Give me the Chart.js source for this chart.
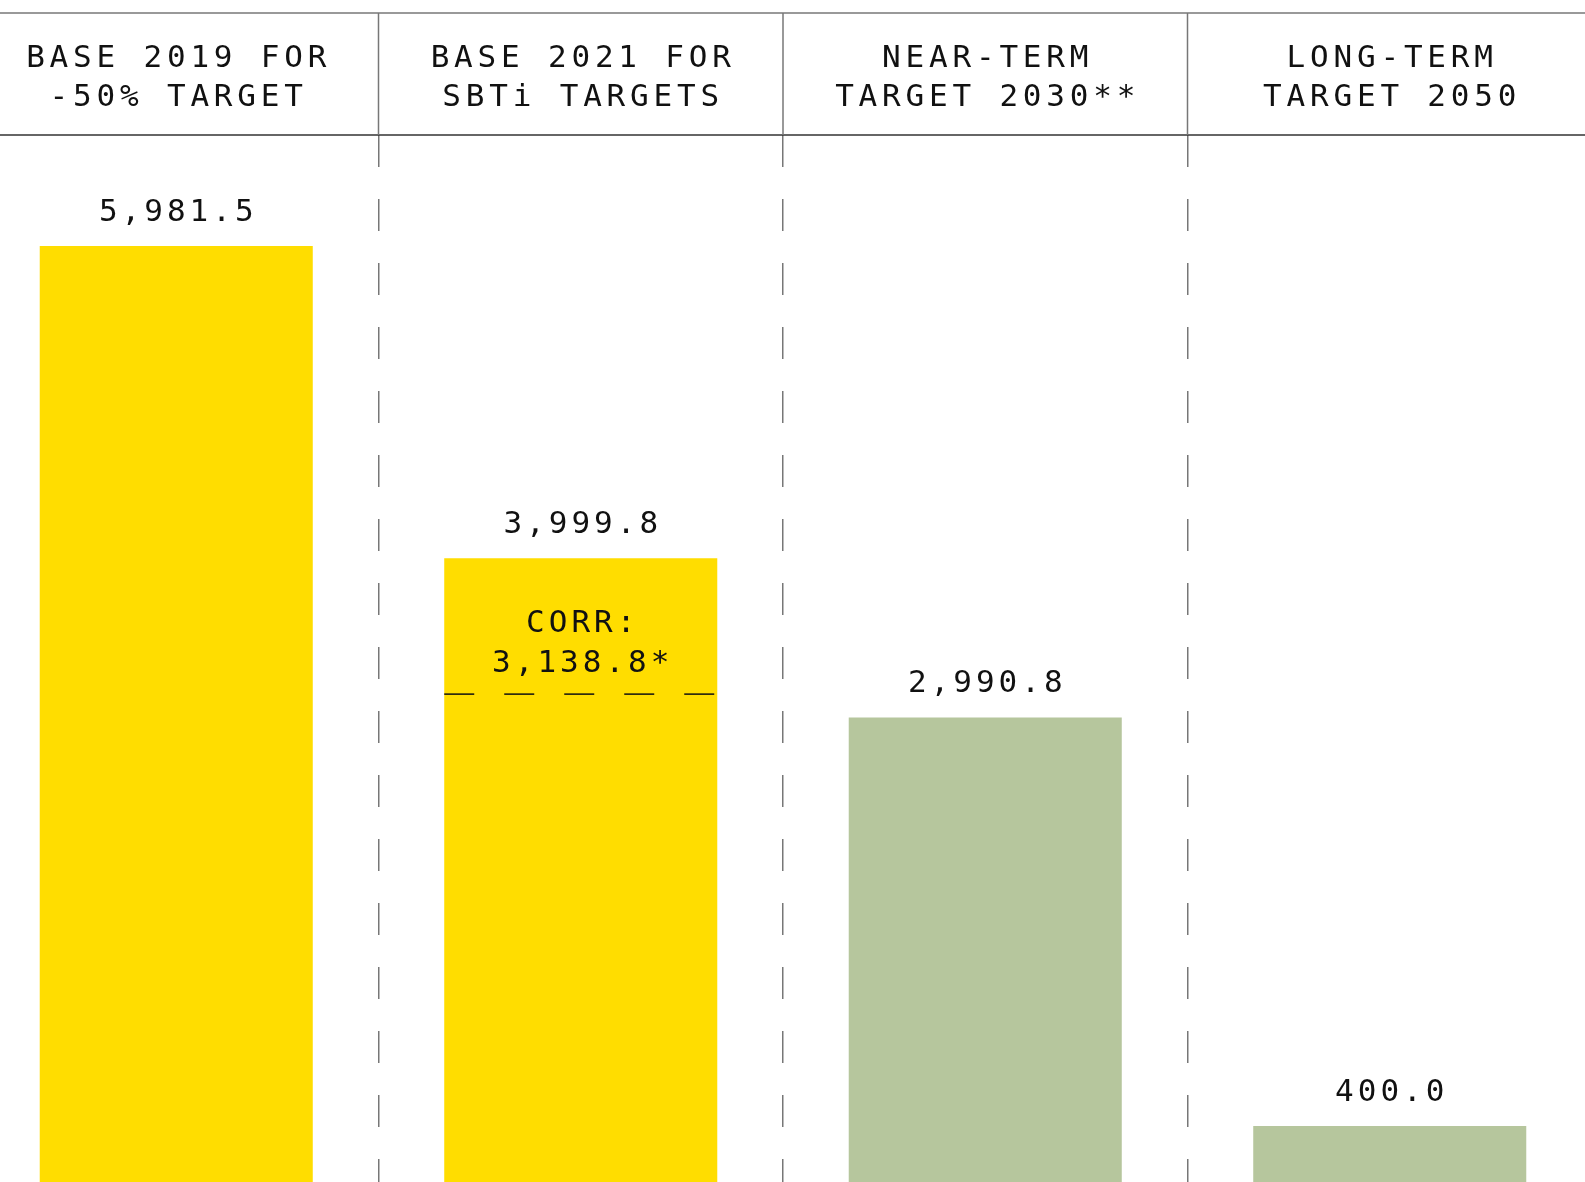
<!DOCTYPE html>
<html><head><meta charset="utf-8">
<script src="https://cdn.jsdelivr.net/npm/chart.js@4"></script>
<style>
html,body{margin:0;padding:0;background:#fff;overflow:hidden;width:1585px;height:1182px;}
#wrap{position:absolute;left:-26px;top:0;width:1618px;height:1189px;}
</style></head><body>
<div id="wrap"><canvas id="c"></canvas></div>
<script>
const categories = [["BASE 2019 FOR","-50% TARGET"],["BASE 2021 FOR","SBTi TARGETS"],["NEAR-TERM","TARGET 2030**"],["LONG-TERM","TARGET 2050"]];
const emissions = [5981.5, 3999.8, 2990.8, 400.0];
const valueLabels = ["5,981.5","3,999.8","2,990.8","400.0"];
const correctedValues = [null, 3138.8, null, null];
const correctedLabels = [null, ["CORR:","3,138.8*"], null, null];
const barColors = ["#FFDD00","#FFDD00","#B6C69D","#B6C69D"];
const yMax = 6685;

const FONT = '31px "DejaVu Sans Mono", "Liberation Mono", monospace';
function spaced(ctx, text, x, y, sp) {
  ctx.letterSpacing = sp + 'px';
  ctx.fillText(text, x + sp / 2, y);
}

const decor = {
  id: 'decor',
  afterDraw(chart) {
    const ctx = chart.ctx;
    const xs = chart.scales.x, ys = chart.scales.y;
    const area = chart.chartArea;
    const headTop = 13;
    const n = categories.length;
    ctx.save();
    ctx.lineWidth = 1.5;
    ctx.strokeStyle = '#777';
    ctx.beginPath(); ctx.moveTo(0, headTop); ctx.lineTo(chart.width, headTop); ctx.stroke();
    ctx.strokeStyle = '#333';
    ctx.beginPath(); ctx.moveTo(0, area.top); ctx.lineTo(chart.width, area.top); ctx.stroke();
    ctx.strokeStyle = '#777';
    for (let i = 1; i < n; i++) {
      const x = (xs.getPixelForValue(i - 1) + xs.getPixelForValue(i)) / 2;
      ctx.beginPath(); ctx.moveTo(x, headTop); ctx.lineTo(x, area.top); ctx.stroke();
    }
    ctx.font = FONT;
    ctx.fillStyle = '#111';
    ctx.textAlign = 'center';
    ctx.textBaseline = 'middle';
    const lh = 39.5;
    const mid = (headTop + area.top) / 2 + 4.5;
    categories.forEach((lines, i) => {
      const x = xs.getPixelForValue(i);
      lines.forEach((t, j) => {
        spaced(ctx, t, x, mid + (j - (lines.length - 1) / 2) * lh, 4.8);
      });
    });
    const meta = chart.getDatasetMeta(0);
    meta.data.forEach((bar, i) => {
      spaced(ctx, valueLabels[i], bar.x, bar.y - 33, 4);
      if (correctedValues[i] != null) {
        const cy = ys.getPixelForValue(correctedValues[i]);
        const w = bar.width;
        ctx.save();
        ctx.strokeStyle = '#111';
        ctx.lineWidth = 1.5;
        ctx.setLineDash([30, 30]);
        ctx.beginPath(); ctx.moveTo(bar.x - w / 2, cy); ctx.lineTo(bar.x + w / 2, cy); ctx.stroke();
        ctx.restore();
        const cl = correctedLabels[i];
        cl.forEach((t, j) => {
          spaced(ctx, t, bar.x, cy - 30.5 - (cl.length - 1 - j) * lh, 4);
        });
      }
    });
    ctx.restore();
  }
};

new Chart(document.getElementById('c'), {
  type: 'bar',
  data: {
    labels: categories,
    datasets: [{
      data: emissions,
      backgroundColor: barColors,
      borderWidth: 0,
      barPercentage: 0.675,
      categoryPercentage: 1
    }]
  },
  options: {
    responsive: true,
    maintainAspectRatio: false,
    animation: false,
    layout: { padding: { top: 135, left: 0, right: 0, bottom: 0 } },
    plugins: { legend: { display: false }, tooltip: { enabled: false } },
    scales: {
      x: {
        display: true,
        ticks: { display: false },
        grid: { offset: true, drawTicks: false, color: '#777', lineWidth: 1.5 },
        border: { display: false, dash: [32, 32] }
      },
      y: { display: false, min: 0, max: yMax }
    }
  },
  plugins: [decor]
});
</script>
</body></html>
